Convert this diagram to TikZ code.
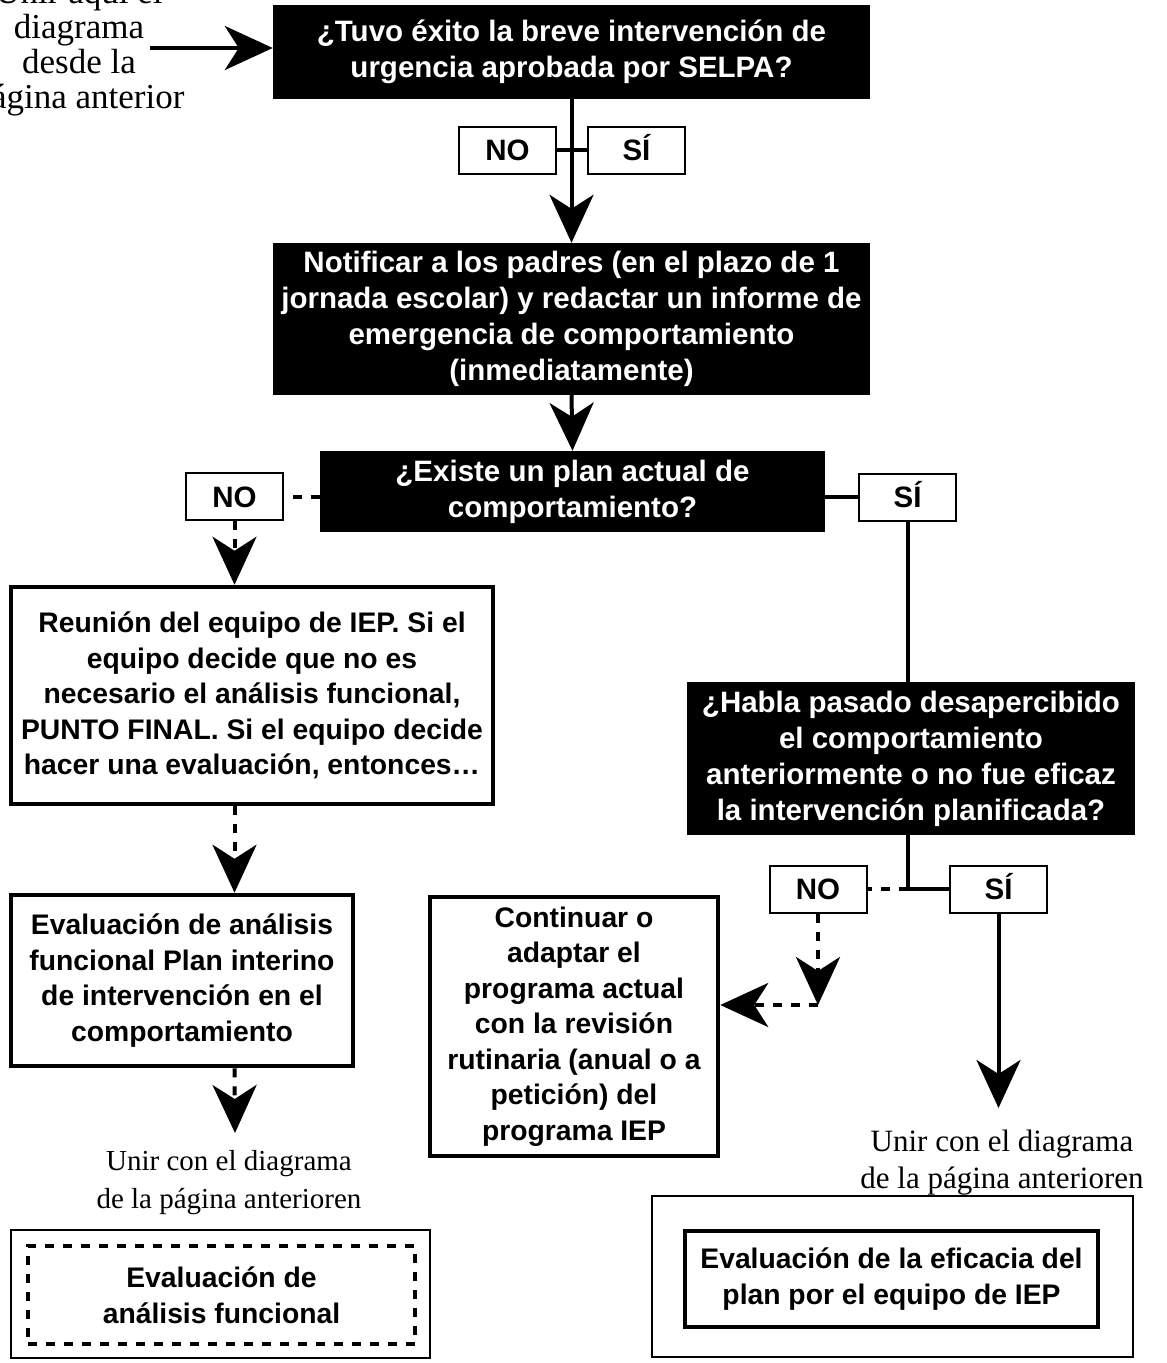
\documentclass[tikz,border=0pt]{standalone}
\usepackage{fontspec}
\setmainfont{Liberation Serif}
\setsansfont{Liberation Sans}
\usetikzlibrary{arrows.meta}
\newcommand\bxfont{\sffamily\bfseries\fontsize{29.5}{36}\selectfont}
\newcommand\wbxfont{\sffamily\bfseries\fontsize{28.3}{35.5}\selectfont}
\newcommand\serfont{\rmfamily\fontsize{29}{38}\selectfont}
\tikzset{
  blackbox/.style={fill=black,text=white,font=\bxfont,align=center,inner sep=0pt},
  whitebox/.style={draw,line width=4.5pt,font=\wbxfont,align=center,inner sep=0pt},
  lbl/.style={draw,line width=2pt,font=\bxfont,minimum width=97pt,minimum height=47pt,inner sep=0pt,text height=21pt,text depth=0pt},
  conn/.style={line width=4pt},
  dconn/.style={line width=4pt,dash pattern=on 9pt off 9pt},
  arr/.style={-{Stealth[length=48pt,width=44pt,inset=14pt]}},
  sertext/.style={font=\serfont,align=center,inner sep=0pt},
}
\begin{document}
\begin{tikzpicture}[x=1pt,y=-1pt]
\useasboundingbox (0,0) rectangle (1167,1363);
% top-left text
\node[font=\rmfamily\fontsize{35}{35}\selectfont,align=center,inner sep=0pt] (tl) at (79,48) {Unir aquí el\\diagrama\\desde la\\página anterior};
\coordinate (tlA) at (150,48);
% boxes
\node[blackbox,minimum width=597pt,minimum height=94pt] (b1) at (571.5,52) {¿Tuvo éxito la breve intervención de\\urgencia aprobada por SELPA?};
\node[lbl] (no1) at (507.5,150) {NO};
\node[lbl] (si1) at (636.5,150) {SÍ};
\node[blackbox,minimum width=597pt,minimum height=152pt] (b2) at (571.5,319) {Notificar a los padres (en el plazo de 1\\jornada escolar) y redactar un informe de\\emergencia de comportamiento\\(inmediatamente)};
\node[blackbox,minimum width=505pt,minimum height=81pt] (b3) at (572.5,491.5) {¿Existe un plan actual de\\comportamiento?};
\node[lbl] (no2) at (234.5,496.5) {NO};
\node[lbl] (si2) at (907.5,497) {SÍ};
\node[whitebox,minimum width=482pt,minimum height=217pt] (r) at (252,695.5) {Reunión del equipo de IEP. Si el\\equipo decide que no es\\necesario el análisis funcional,\\PUNTO FINAL. Si el equipo decide\\hacer una evaluación, entonces…};
\node[whitebox,minimum width=342pt,minimum height=171pt] (e) at (182,980.5) {Evaluación de análisis\\funcional Plan interino\\de intervención en el\\comportamiento};
\node[blackbox,minimum width=448pt,minimum height=153pt] (h) at (911,758.5) {¿Habla pasado desapercibido\\el comportamiento\\anteriormente o no fue eficaz\\la intervención planificada?};
\node[lbl] (no3) at (818,889) {NO};
\node[lbl] (si3) at (998.5,889) {SÍ};
\node[whitebox,minimum width=288pt,minimum height=259pt] (c) at (574,1026.5) {Continuar o\\adaptar el\\programa actual\\con la revisión\\rutinaria (anual o a\\petición) del\\programa IEP};
\node[sertext] (u1) at (229,1183) {Unir con el diagrama\\de la página anterioren};
\node[sertext,font=\rmfamily\fontsize{31}{37}\selectfont] (u2) at (1002,1163) {Unir con el diagrama\\de la página anterioren};
% bottom legend boxes
\node[draw,line width=2pt,minimum width=419pt,minimum height=128pt] (lo) at (220.5,1294) {};
\node[draw,line width=4pt,dash pattern=on 9pt off 9pt,minimum width=387pt,minimum height=98pt,font=\wbxfont,align=center,inner sep=0pt] (li) at (221.5,1295) {Evaluación de\\análisis funcional};
\node[draw,line width=2pt,minimum width=481pt,minimum height=161pt] (ro) at (892.5,1276.5) {};
\node[draw,line width=4.5pt,minimum width=413pt,minimum height=96pt,font=\wbxfont,align=center,inner sep=0pt] (ri) at (891.5,1279) {Evaluación de la eficacia del\\plan por el equipo de IEP};
% coordinates for free ends
\coordinate (eTip) at (235,1133);
\coordinate (siTip) at (998.5,1108);
\coordinate (bend) at (818,1005);
% connectors
\draw[conn,arr] (tlA) -- (tlA -| b1.west);
\draw[conn,arr] (b1.south) -- (b2.north);
\draw[conn] (no1.east) -- (si1.west);
\draw[conn,arr] (b2.south) -- (b3.north);
\draw[dconn] (b3.west |- no2.east) -- (no2.east);
\draw[conn] (b3.east |- si2.west) -- (si2.west);
\draw[dconn,arr] (no2.south) -- (no2.south |- r.north);
\draw[conn] (si2.south) -- (si2.south |- h.north);
\draw[dconn,arr] (no2.south |- r.south) -- (no2.south |- e.north);
\draw[dconn,arr] (no2.south |- e.south) -- (eTip);
\draw[conn] (si2.south |- h.south) -- (si2.south |- si3.west) -- (si3.west);
\draw[dconn] (si2.south |- no3.east) -- (no3.east);
\draw[conn,arr] (si3.south) -- (siTip);
\draw[dconn,arr] (no3.south) -- (bend);
\draw[dconn,arr] (bend) -- (bend -| c.east);
\end{tikzpicture}
\end{document}
